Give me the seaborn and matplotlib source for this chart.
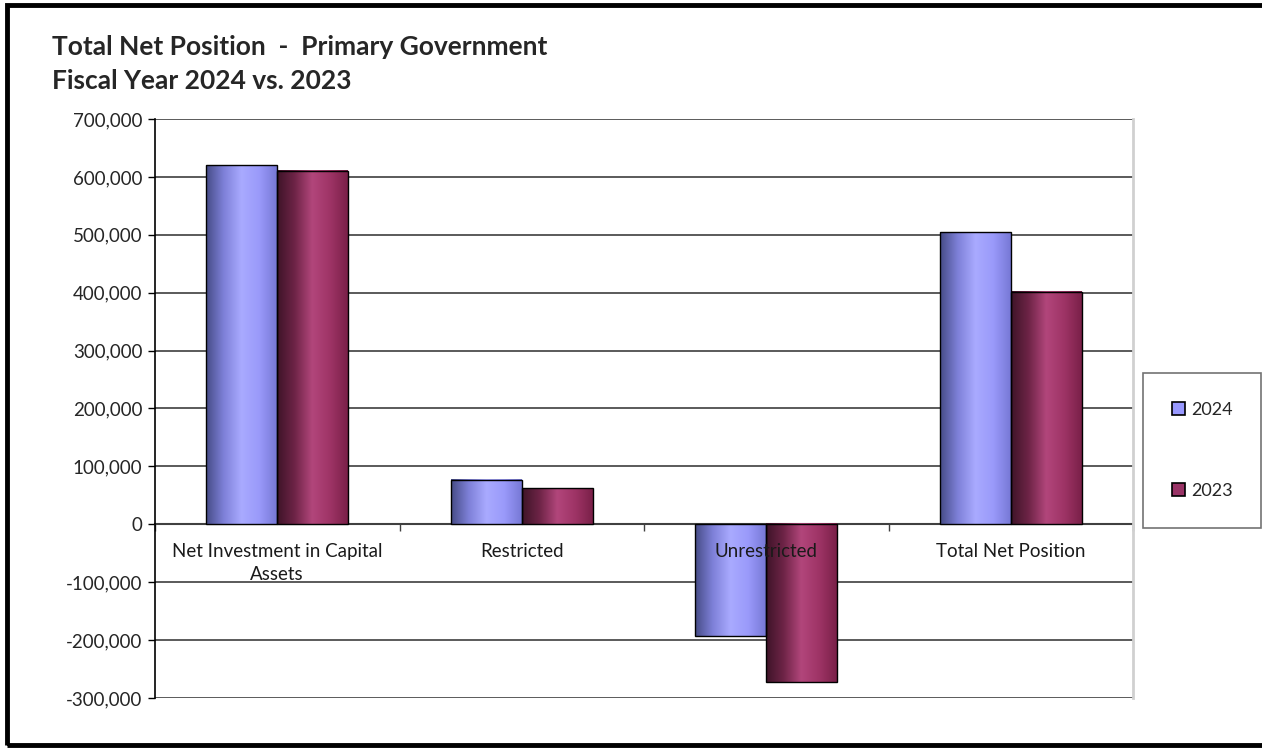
import numpy as np
import pandas as pd
import matplotlib
matplotlib.use("Agg")
import matplotlib.pyplot as plt
import matplotlib.ticker as ticker
from matplotlib.colors import LinearSegmentedColormap
from matplotlib.patches import Patch, Rectangle
import seaborn as sns

# === DANE ===
categories = ["Net Investment in Capital\nAssets", "Restricted", "Unrestricted", "Total Net Position"]
years = ["2024", "2023"]
values_2024 = [620000, 76000, -193000, 504000]
values_2023 = [611000, 62000, -273000, 402000]

base_colors = {"2024": "#9999FF", "2023": "#993366"}
gradients = {
    "2024": ["#464C86", "#7E80D8", "#A9AAFF", "#9A9AFA", "#7778D6"],
    "2023": ["#3E1428", "#6E2447", "#B2467B", "#9E3466", "#7A2048"],
}

df = pd.DataFrame({
    "category": categories * 2,
    "value": values_2024 + values_2023,
    "year": ["2024"] * 4 + ["2023"] * 4,
})

# === STYL ===
sns.set_style("white")
plt.rcParams["font.family"] = ["Lato", "DejaVu Sans"]

fig = plt.figure(figsize=(12.62, 7.5), dpi=100)
ax = fig.add_axes([155 / 1262, 52 / 750, (1133 - 155) / 1262, (698 - 119) / 750])

sns.barplot(data=df, x="category", y="value", hue="year", hue_order=years,
            palette=base_colors, width=0.58, gap=0, ax=ax, legend=False,
            edgecolor="black", linewidth=1.0, zorder=3)

# gradient "walca" w każdym słupku
grad = np.linspace(0, 1, 256).reshape(1, -1)
for container, yr in zip(ax.containers, years):
    cmap = LinearSegmentedColormap.from_list("g" + yr, gradients[yr])
    for bar in container:
        x0, y0 = bar.get_x(), bar.get_y()
        w, h = bar.get_width(), bar.get_height()
        ax.imshow(grad, cmap=cmap, aspect="auto", interpolation="bicubic",
                  extent=[x0, x0 + w, min(y0, y0 + h), max(y0, y0 + h)], zorder=3)
        bar.set_facecolor("none")
        bar.set_zorder(4)

ax.set_xlim(-0.5, 3.5)
ax.set_ylim(-300000, 700000)
ax.set_yticks(np.arange(-300000, 700001, 100000))
ax.yaxis.set_major_formatter(ticker.FuncFormatter(lambda v, _: f"{v:,.0f}"))
ax.tick_params(axis="y", direction="out", length=5, width=1, color="black",
               labelsize=13.5, left=True, pad=4)

# oś X na poziomie zera, podpisy kategorii jako tekst
ax.spines["bottom"].set_position(("data", 0))
ax.spines["bottom"].set_color("#404040")
ax.spines["bottom"].set_linewidth(1.5)
ax.spines["bottom"].set_zorder(2)
ax.set_xticks([-0.5, 0.5, 1.5, 2.5, 3.5])
ax.set_xticklabels([])
ax.tick_params(axis="x", direction="out", length=5, width=1, color="#404040", bottom=True)
for i, cat in enumerate(categories):
    ax.text(i, -32000, cat, ha="center", va="top", fontsize=13.5, color="#1a1a1a",
            linespacing=1.45, zorder=6)

ax.spines["left"].set_color("black")
ax.spines["left"].set_linewidth(1.2)
ax.spines["top"].set_visible(False)
ax.spines["right"].set_color("#D0D0D0")
ax.spines["right"].set_linewidth(2)

ax.yaxis.grid(True, color="#5A5A5A", linewidth=1.4)
ax.set_axisbelow(True)
ax.set_xlabel("")
ax.set_ylabel("")

# tytuł
fig.text(52 / 1262, 1 - 35 / 750,
         "Total Net Position  -  Primary Government\nFiscal Year 2024 vs. 2023",
         ha="left", va="top", fontsize=19, fontweight="bold", linespacing=1.5)

# legenda
handles = [Patch(facecolor=base_colors[y], edgecolor="black", linewidth=1.2, label=y) for y in years]
leg = fig.legend(handles=handles, loc="upper left",
                 bbox_to_anchor=(1143 / 1262, 1 - 373 / 750), bbox_transform=fig.transFigure,
                 frameon=True, fancybox=False, fontsize=13, handlelength=0.75, handleheight=0.75,
                 handletextpad=0.3, labelspacing=3.6, borderpad=1.6, borderaxespad=0)
leg.get_frame().set_edgecolor("#505050")
leg.get_frame().set_linewidth(1.2)

# ramka wokół całego obrazka
fig.patches.append(Rectangle((7 / 1262, 5 / 750), 1.1, 740 / 750, transform=fig.transFigure,
                             fill=False, edgecolor="black", linewidth=3.5, zorder=10))

fig.savefig("out.png", dpi=100)
